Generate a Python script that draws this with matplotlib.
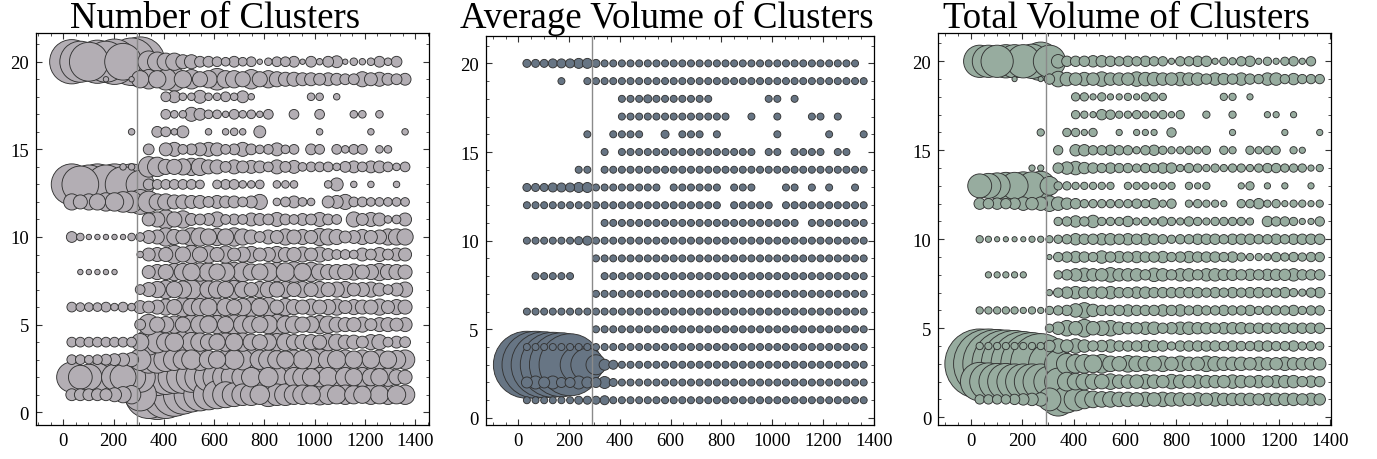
import numpy as np
import matplotlib.pyplot as plt
from matplotlib.ticker import MultipleLocator

# column positions (x) and row categories (y), top row first
x_values = [34, 68, 102, 136, 170, 204, 238, 272, 306, 340,
            374, 408, 442, 476, 510, 544, 578, 612, 646, 680,
            714, 748, 782, 816, 850, 884, 918, 952, 986, 1020,
            1054, 1088, 1122, 1156, 1190, 1224, 1258, 1292, 1326, 1360]
y_rows = [20, 19, 18, 17, 16, 15, 14, 13, 12, 11, 10, 9, 8, 7, 6, 5, 4, 3, 2, 1]
threshold_x = 292

titles = ["Number of Clusters", "Average Volume of Clusters", "Total Volume of Clusters"]

# bubble magnitudes (0 = no bubble), one string per row
count_rows = [
    "41 38 36 40 38 42 34 44 46 20 18 16 16 13 13 10 10 9 8 10 8 9 5 7 9 9 10 5 10 6 10 11 5 7 6 7 10 7 10 0",
    "0 0 0 0 5 0 0 5 16 18 16 20 22 16 18 14 16 20 16 16 14 18 14 16 14 13 13 12 12 11 12 11 10 10 14 12 13 11 10 11",
    "0 0 0 0 0 0 0 0 0 0 0 9 11 7 7 12 7 7 9 7 11 6 0 0 0 0 0 0 7 7 0 6 0 0 0 0 0 0 0 0",
    "0 0 0 0 0 0 0 0 0 0 0 9 7 7 13 11 8 8 6 9 7 8 6 9 0 0 9 0 0 9 0 0 0 7 7 0 7 0 0 0",
    "0 0 0 0 0 0 0 6 0 0 10 9 6 11 0 0 6 0 6 7 6 0 11 0 0 0 0 0 0 6 0 0 0 0 0 6 0 0 0 6",
    "0 0 0 0 0 0 0 0 0 10 0 12 13 9 10 12 13 12 9 10 13 10 8 9 12 8 9 0 10 9 0 9 7 9 9 0 7 7 0 0",
    "0 0 0 0 0 0 6 6 0 19 18 14 14 15 16 16 13 13 10 13 11 12 11 9 13 10 12 8 9 9 9 7 10 11 9 11 11 9 7 9",
    "38 34 36 38 36 38 33 38 26 10 9 9 9 9 9 8 0 8 9 9 7 7 8 0 7 7 7 0 0 0 7 12 0 6 0 6 0 0 6 0",
    "15 13 15 15 17 17 19 20 23 20 15 15 13 13 12 12 10 12 11 11 9 11 14 0 7 9 11 8 7 0 11 12 14 9 9 8 8 8 8 8",
    "0 0 0 0 0 0 0 0 0 12 14 18 14 16 11 10 11 14 9 10 9 12 11 10 13 10 9 11 10 13 10 9 0 14 11 13 12 7 8 12",
    "10 7 5 5 5 5 5 7 8 12 13 17 14 13 17 17 15 16 15 17 15 13 10 13 12 15 13 14 12 16 15 14 11 12 14 12 13 15 15 15",
    "0 0 0 0 0 0 0 0 6 12 13 13 17 14 17 14 16 13 16 12 14 15 12 13 15 13 13 14 12 14 11 9 9 8 12 10 13 10 12 12",
    "0 5 5 5 5 5 0 0 0 12 14 14 16 16 16 17 17 15 17 18 18 15 15 17 18 17 19 16 18 15 14 14 14 15 13 14 16 14 14 13",
    "0 0 0 0 0 0 0 0 9 13 15 17 15 16 18 20 16 16 15 17 15 13 15 15 14 15 13 15 13 15 13 14 15 12 13 14 12 9 12 14",
    "9 8 8 8 9 7 9 7 12 11 13 15 14 18 16 16 16 17 16 14 16 18 16 18 13 16 14 13 15 13 14 15 12 14 13 13 15 12 14 13",
    "0 0 0 0 0 0 0 0 10 19 14 15 16 14 18 17 16 17 15 18 17 16 15 17 19 16 16 14 15 17 16 14 13 13 14 11 13 13 12 13",
    "9 9 9 9 9 9 9 9 16 24 20 17 17 20 18 17 15 15 17 16 17 15 14 15 16 16 14 14 14 13 16 15 13 13 11 14 14 9 11 10",
    "9 9 8 9 10 11 12 13 20 25 25 22 20 18 18 20 17 16 18 18 19 20 18 18 17 16 18 17 18 20 18 17 18 16 18 16 18 16 17 18",
    "28 22 24 26 28 24 24 26 28 34 34 32 30 30 28 28 26 26 24 24 20 18 20 18 20 22 18 18 16 18 18 20 18 16 18 16 16 17 14 13",
    "11 11 11 11 11 13 15 17 30 44 46 44 40 36 32 30 28 26 24 22 20 20 18 22 20 20 18 18 17 19 18 17 18 17 16 18 17 18 17 18",
]

avg_volume_rows = [
    "8 8 8 9 9 9 10 10 8 7 7 7 7 7 7 7 7 7 7 7 7 7 7 7 7 7 7 7 7 7 7 7 7 7 7 7 7 7 7 0",
    "0 0 0 0 7 0 0 7 7 7 7 7 7 7 7 7 7 7 7 7 7 7 7 7 7 7 7 7 7 7 7 7 7 7 7 7 7 7 7 7",
    "0 0 0 0 0 0 0 0 0 0 0 7 7 7 8 7 7 7 7 7 7 7 0 0 0 0 0 0 7 7 0 7 0 0 0 0 0 0 0 0",
    "0 0 0 0 0 0 0 0 0 0 0 7 7 7 7 7 7 7 7 7 7 7 7 7 0 0 7 0 0 7 0 0 0 7 7 0 7 0 0 0",
    "0 0 0 0 0 0 0 7 0 0 7 7 7 7 0 0 8 0 7 7 7 0 7 0 0 0 0 0 0 7 0 0 0 0 0 7 0 0 0 7",
    "0 0 0 0 0 0 0 0 0 7 0 7 7 7 7 7 7 7 7 7 7 7 7 7 7 7 7 0 7 7 0 7 7 7 7 0 7 7 0 0",
    "0 0 0 0 0 0 7 7 0 7 7 7 7 7 7 7 7 7 7 7 7 7 7 7 7 7 7 7 7 7 7 7 7 7 7 7 7 7 7 7",
    "8 8 8 9 9 9 10 10 7 7 7 7 7 7 7 7 0 7 7 7 7 7 7 0 7 7 7 0 0 0 7 7 0 7 0 7 0 0 7 0",
    "7 7 7 7 7 7 7 7 7 7 7 7 7 7 7 7 7 7 7 7 7 7 7 0 7 7 7 7 7 0 7 7 7 7 7 7 7 7 7 7",
    "0 0 0 0 0 0 0 0 0 7 7 7 7 7 7 7 7 7 7 7 7 7 7 7 7 7 7 7 7 7 7 7 0 7 7 7 7 7 7 7",
    "7 7 7 7 7 7 8 9 7 7 7 7 7 7 7 7 7 7 7 7 7 7 7 7 7 7 7 7 7 7 7 7 7 7 7 7 7 7 7 7",
    "0 0 0 0 0 0 0 0 7 7 7 7 7 7 7 7 7 7 7 7 7 7 7 7 7 7 7 7 7 7 7 7 7 7 7 7 7 7 7 7",
    "0 7 7 7 7 7 0 0 0 7 7 7 7 7 7 7 7 7 7 7 7 7 7 7 7 7 7 7 7 7 7 7 7 7 7 7 7 7 7 7",
    "0 0 0 0 0 0 0 0 7 7 7 7 7 7 7 7 7 7 7 7 7 7 7 7 7 7 7 7 7 7 7 7 7 7 7 7 7 7 7 7",
    "7 7 7 7 7 7 7 7 7 7 7 7 7 7 7 7 7 7 7 7 7 7 7 7 7 7 7 7 7 7 7 7 7 7 7 7 7 7 7 7",
    "0 0 0 0 0 0 0 0 7 7 7 7 7 7 7 7 7 7 7 7 7 7 7 7 7 7 7 7 7 7 7 7 7 7 7 7 7 7 7 7",
    "7 7 7 7 7 7 7 7 7 7 7 7 7 7 7 7 7 7 7 7 7 7 7 7 7 7 7 7 7 7 7 7 7 7 7 7 7 7 7 7",
    "67 67 66 65 64 62 37 33 20 11 9 7 7 7 7 7 7 7 7 7 7 7 7 7 7 7 7 7 7 7 7 7 7 7 7 7 7 7 7 7",
    "11 13 11 13 10 10 13 11 10 12 8 7 7 7 7 7 7 7 7 7 7 7 7 7 7 7 7 7 7 7 7 7 7 7 7 7 7 7 7 7",
    "7 7 7 7 7 7 8 8 8 9 7 7 7 7 7 7 7 7 7 7 7 7 7 7 7 7 7 7 7 7 7 7 7 7 7 7 7 7 7 7",
]

total_volume_rows = [
    "31 31 31 32 32 32 33 37 31 13 10 10 10 11 11 10 9 10 9 10 9 9 6 9 9 10 10 6 8 7 9 10 6 8 6 8 9 6 9 0",
    "0 0 0 0 5 0 0 5 10 15 13 12 13 12 14 12 12 12 14 13 13 12 12 13 12 12 10 12 11 10 12 10 9 12 12 9 11 9 9 9",
    "0 0 0 0 0 0 0 0 0 0 0 8 8 6 8 6 6 7 6 8 8 7 0 0 0 0 0 0 7 7 0 6 0 0 0 0 0 0 0 0",
    "0 0 0 0 0 0 0 0 0 0 0 8 7 6 10 9 7 7 8 7 7 8 6 8 0 0 7 0 0 7 0 0 0 6 6 0 6 0 0 0",
    "0 0 0 0 0 0 0 7 0 0 8 8 6 8 0 0 6 0 6 6 6 0 9 0 0 0 0 0 0 6 0 0 0 0 0 6 0 0 0 6",
    "0 0 0 0 0 0 0 0 0 9 0 11 11 9 9 10 9 9 7 9 10 8 7 7 8 7 8 0 8 7 0 8 7 8 8 0 7 6 0 0",
    "0 0 0 0 0 0 6 6 0 10 12 13 11 10 9 10 9 9 8 9 9 10 10 7 9 8 7 8 7 8 8 7 8 9 9 8 8 8 6 7",
    "23 24 25 26 26 27 27 28 18 8 8 7 7 7 7 7 0 7 7 7 6 7 7 0 7 6 7 0 0 0 6 8 0 6 0 6 0 0 6 0",
    "11 10 11 10 11 13 12 13 15 13 11 10 8 8 8 8 8 8 9 8 10 7 9 0 7 8 7 7 6 0 8 8 10 7 8 6 7 7 6 7",
    "0 0 0 0 0 0 0 0 0 8 9 11 9 12 8 8 8 10 7 8 7 9 8 7 9 8 7 8 8 8 8 7 0 10 9 9 8 6 6 9",
    "7 6 5 5 5 5 6 6 7 8 9 11 10 10 11 11 10 11 10 11 10 9 8 9 9 10 10 10 9 10 10 10 9 9 10 9 10 10 10 10",
    "0 0 0 0 0 0 0 0 5 9 10 11 10 9 12 10 11 10 11 10 10 11 9 10 11 10 10 10 9 10 8 7 7 7 9 8 9 8 9 9",
    "0 6 6 6 6 6 0 0 0 8 10 12 13 12 12 14 12 12 12 10 13 12 10 12 12 10 12 12 11 11 10 11 10 11 11 11 12 10 10 10",
    "0 0 0 0 0 0 0 0 6 9 11 12 11 11 11 12 10 10 11 11 10 10 10 10 10 10 9 10 9 10 9 10 10 9 9 10 8 7 9 10",
    "7 7 7 7 7 6 7 6 8 9 10 13 15 12 10 10 10 11 10 10 10 11 10 11 9 10 9 9 10 9 9 10 8 9 9 9 10 8 9 9",
    "0 0 0 0 0 0 0 0 8 12 15 13 17 13 14 15 12 11 11 12 12 10 11 12 12 11 11 10 11 11 11 10 10 10 10 10 10 10 10 10",
    "7 7 7 7 7 7 7 7 11 14 12 14 12 10 11 12 10 10 10 11 11 10 8 10 10 10 10 10 9 10 9 9 10 10 9 9 10 8 9 8",
    "67 67 66 65 64 62 60 58 40 26 20 18 18 17 18 15 14 16 15 14 14 15 13 15 13 13 15 14 13 13 13 12 13 12 12 13 12 12 12 12",
    "37 36 35 35 34 34 34 34 30 26 18 16 16 15 14 15 13 13 13 14 13 12 14 13 12 13 12 12 12 13 12 11 12 11 12 12 12 10 11 10",
    "9 9 9 9 10 11 12 13 22 32 26 22 18 16 15 15 14 14 13 14 13 14 13 13 12 13 12 13 12 12 12 12 11 12 12 12 12 11 12 11",
]

plt.rcParams['font.family'] = ['Liberation Serif', 'DejaVu Serif']

fig = plt.figure(figsize=(13.77, 4.6), dpi=100)

# data, fill colour, axes rect, x range, y range, title x, bubble scale
panels = [
    (count_rows, '#b3aeb4', [0.0261, 0.0746, 0.2856, 0.8515], (-108.6, 1456), (-0.71, 21.64), 0.156, 1.08),
    (avg_volume_rows, '#677584', [0.3527, 0.0746, 0.2822, 0.8444], (-128.3, 1401.6), (-0.38, 21.53), 0.484, 1.0),
    (total_volume_rows, '#97ac9f', [0.6814, 0.0746, 0.2852, 0.8515], (-127.5, 1404), (-0.42, 21.59), 0.818, 1.04),
]

X, Y = np.meshgrid(x_values, y_rows)

for (rows, color, rect, xlim, ylim, tx, k), title in zip(panels, titles):
    ax = fig.add_axes(rect)
    V = np.array([[float(v) for v in r.split()] for r in rows])
    m = V > 0
    xs, ys, vs = X[m], Y[m], V[m]
    order = np.argsort(-vs, kind='stable')
    ax.scatter(xs[order], ys[order], s=(vs[order] * 0.72 * k) ** 2, c=color,
               edgecolors='#333333', linewidths=0.65, zorder=2)
    ax.axvline(threshold_x, color='#8a8a8a', lw=1.0, zorder=3)
    ax.set_xlim(*xlim)
    ax.set_ylim(*ylim)
    ax.xaxis.set_major_locator(MultipleLocator(200))
    ax.xaxis.set_minor_locator(MultipleLocator(50))
    ax.yaxis.set_major_locator(MultipleLocator(5))
    ax.yaxis.set_minor_locator(MultipleLocator(1))
    ax.tick_params(which='both', direction='in', top=True, right=True,
                   labelsize=13.5, pad=5, color='#333333')
    ax.tick_params(which='major', length=4.5, width=0.8)
    ax.tick_params(which='minor', length=2.2, width=0.6)
    for s in ax.spines.values():
        s.set_linewidth(0.9)
    fig.text(tx, 0.94, title, ha='center', va='baseline', fontsize=26.5)

fig.savefig('out.png', dpi=100)
